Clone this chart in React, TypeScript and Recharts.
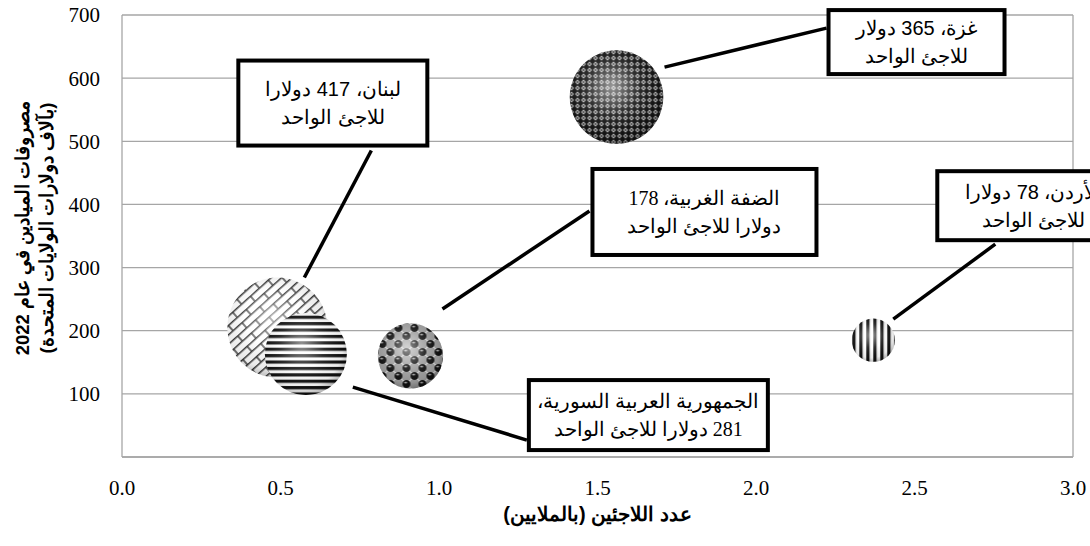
import { ScatterChart, Scatter, XAxis, YAxis, ZAxis, CartesianGrid, ReferenceLine } from 'recharts';

// values
const regions = ['لبنان', 'الجمهورية العربية السورية', 'غزة', 'الضفة الغربية', 'الأردن'];
const refugeesMillions = [0.49, 0.58, 1.56, 0.91, 2.37];
const spendingThousands = [205, 163, 570, 160, 185];
const perRefugeeUsd = [417, 281, 365, 178, 78];
const labelLines = [
  ['لبنان، 417 دولارا', 'للاجئ الواحد'],
  ['الجمهورية العربية السورية،', '281 دولارا للاجئ الواحد'],
  ['غزة، 365 دولار', 'للاجئ الواحد'],
  ['الضفة الغربية، 178', 'دولارا للاجئ الواحد'],
  ['الأردن، 78 دولارا', 'للاجئ الواحد'],
];
const xTicks = [0, 0.5, 1, 1.5, 2, 2.5, 3];
const yTicks = [100, 200, 300, 400, 500, 600, 700];
const yTitleLines = ['مصروفات الميادين في عام 2022', '(بآلاف دولارات الولايات المتحدة)'];
const xTitle = 'عدد اللاجئين (بالملايين)';

// callout placement relative to the bubble centre: box [dx, dy, w, h], leader [x1, y1, x2, y2]
const calloutLayout = [
  { box: [-41, -269, 193, 89], leader: [94, -177, 27, -50], font: 'Liberation Sans' },
  { box: [221, 24, 243, 74], leader: [47, 33, 221, 86], font: 'Liberation Serif' },
  { box: [210, -89, 180, 68], leader: [48, -30, 210, -69], font: 'Liberation Sans' },
  { box: [180, -189, 228, 90], leader: [32, -47, 179, -145], font: 'Liberation Serif' },
  { box: [62, -171, 196, 73], leader: [20, -21, 122, -96], font: 'Liberation Sans' },
];

const patternKinds = ['brick', 'hstripe', 'diamond', 'balls', 'vstripe'];

const data = regions.map((name, i) => ({
  name,
  x: refugeesMillions[i],
  y: spendingThousands[i],
  z: perRefugeeUsd[i],
  i,
}));

const GRID = '#a6a6a6';

function PatternDef({ kind, id, cx, cy }: { kind: string; id: string; cx: number; cy: number }) {
  if (kind === 'brick') {
    return (
      <pattern id={id} patternUnits="userSpaceOnUse" width={24} height={14} x={cx} y={cy}
        patternTransform={`rotate(-42 ${cx} ${cy})`}>
        <rect width={24} height={14} fill="#fff" />
        <path d="M0 0.7 H24 M0 7.7 H24 M1 0.7 V7.7 M13 7.7 V14.7" stroke="#333" strokeWidth={1.4} fill="none" />
      </pattern>
    );
  }
  if (kind === 'hstripe') {
    return (
      <pattern id={id} patternUnits="userSpaceOnUse" width={10} height={6.4} x={cx} y={cy}>
        <rect width={10} height={6.4} fill="#fff" />
        <rect width={10} height={3.2} fill="#111" />
      </pattern>
    );
  }
  if (kind === 'vstripe') {
    return (
      <pattern id={id} patternUnits="userSpaceOnUse" width={7} height={10} x={cx} y={cy}>
        <rect width={7} height={10} fill="#fff" />
        <rect width={3.3} height={10} fill="#111" />
      </pattern>
    );
  }
  if (kind === 'diamond') {
    return (
      <pattern id={id} patternUnits="userSpaceOnUse" width={6} height={6} x={cx} y={cy}>
        <rect width={6} height={6} fill="#151515" />
        <path d="M3 0.6 L5.4 3 L3 5.4 L0.6 3 Z" fill="#d8d8d8" />
        <circle cx={3} cy={3} r={0.9} fill="#222" />
      </pattern>
    );
  }
  return (
    <pattern id={id} patternUnits="userSpaceOnUse" width={16} height={16} x={cx} y={cy}>
      <rect width={16} height={16} fill="#eee" />
      <rect x={8} y={0} width={8} height={8} fill="#a0a0a0" />
      <rect x={0} y={8} width={8} height={8} fill="#a0a0a0" />
      <circle cx={4} cy={4} r={4} fill="#111" />
      <circle cx={12} cy={12} r={4} fill="#111" />
      <ellipse cx={3.2} cy={2.6} rx={1.6} ry={0.9} fill="#aaa" />
      <ellipse cx={11.2} cy={10.6} rx={1.6} ry={0.9} fill="#aaa" />
    </pattern>
  );
}

function Bubble(props: any) {
  const { cx, cy, width, payload } = props;
  if (cx == null || cy == null) return null;
  const r = width / 2;
  const kind = patternKinds[payload.i];
  const pid = `pat-${payload.i}`;
  const gid = `shade-${payload.i}`;
  return (
    <g>
      <defs>
        <PatternDef kind={kind} id={pid} cx={cx} cy={cy} />
        <radialGradient id={gid} cx="0.45" cy="0.42" r="0.62" fx="0.45" fy="0.38">
          <stop offset="0" stopColor="#fff" stopOpacity={0.55} />
          <stop offset="0.45" stopColor="#fff" stopOpacity={0.12} />
          <stop offset="0.8" stopColor="#000" stopOpacity={0.08} />
          <stop offset="1" stopColor="#000" stopOpacity={0.35} />
        </radialGradient>
      </defs>
      <circle cx={cx} cy={cy} r={r} fill={`url(#${pid})`} />
      <circle cx={cx} cy={cy} r={r} fill={`url(#${gid})`} />
    </g>
  );
}

function Callout(props: any) {
  const { cx, cy, payload } = props;
  if (cx == null || cy == null) return null;
  const lay = calloutLayout[payload.i];
  const [bx, by, bw, bh] = lay.box;
  const [l1, l2, l3, l4] = lay.leader;
  const lines = labelLines[payload.i];
  const tx = cx + bx + bw / 2;
  const mid = cy + by + bh / 2;
  return (
    <g>
      <line x1={cx + l1} y1={cy + l2} x2={cx + l3} y2={cy + l4} stroke="#000" strokeWidth={3.5} />
      <rect x={cx + bx + 2} y={cy + by + 2} width={bw - 4} height={bh - 4} fill="#fff" stroke="#000" strokeWidth={4} />
      {lines.map((t, k) => (
        <text key={k} x={tx} y={mid + (k === 0 ? -14 : 14)} textAnchor="middle" dominantBaseline="central"
          direction="rtl" fontFamily={lay.font} fontSize={20} fill="#000">
          {t}
        </text>
      ))}
    </g>
  );
}

function YTitle(props: any) {
  const vb = props.viewBox || { x: 0, y: 15, width: 122, height: 442 };
  const cy = vb.y + vb.height / 2 - 8;
  const xs = [vb.x + 22, vb.x + 46];
  return (
    <g>
      {yTitleLines.map((t, k) => (
        <text key={k} x={xs[k]} y={cy} transform={`rotate(-90 ${xs[k]} ${cy})`} textAnchor="middle"
          direction="rtl" dominantBaseline="central" fontFamily="Liberation Sans" fontWeight="bold" fontSize={18.5} fill="#000">
          {t}
        </text>
      ))}
    </g>
  );
}

function XTitle(props: any) {
  const vb = props.viewBox || { x: 122, y: 457, width: 951, height: 60 };
  return (
    <text x={vb.x + vb.width / 2} y={vb.y + 57} textAnchor="middle" dominantBaseline="central"
      direction="rtl" fontFamily="Liberation Sans" fontWeight="bold" fontSize={20} fill="#000">
      {xTitle}
    </text>
  );
}

const tickStyle = { fontFamily: 'Liberation Serif', fontSize: 21, fill: '#000' };

export default function App() {
  return (
    <div style={{ position: 'absolute', left: 0, top: 0, background: '#fff' }}>
      <ScatterChart width={1090} height={546} margin={{ top: 15, right: 17, bottom: 29, left: 0 }}>
        <CartesianGrid horizontal vertical={false} stroke={GRID} strokeWidth={1.3} />
        <XAxis type="number" dataKey="x" domain={[0, 3]} ticks={xTicks} interval={0}
          tickFormatter={(v: number) => v.toFixed(1)} tick={tickStyle} tickLine={false} tickSize={0} tickMargin={23}
          axisLine={{ stroke: GRID, strokeWidth: 1.3 }} height={60} label={<XTitle />} />
        <YAxis type="number" dataKey="y" domain={[0, 700]} ticks={yTicks} interval={0} tick={tickStyle}
          tickLine={false} tickSize={0} tickMargin={22} axisLine={{ stroke: GRID, strokeWidth: 1.3 }} width={122}
          label={<YTitle />} />
        <ZAxis type="number" dataKey="z" domain={[0, 420]} range={[0, 7900]} />
        <ReferenceLine x={3} stroke={GRID} strokeWidth={1.3} />
        <Scatter data={data} shape={<Bubble />} isAnimationActive={false} />
        <Scatter data={data} shape={<Callout />} isAnimationActive={false} />
      </ScatterChart>
    </div>
  );
}
